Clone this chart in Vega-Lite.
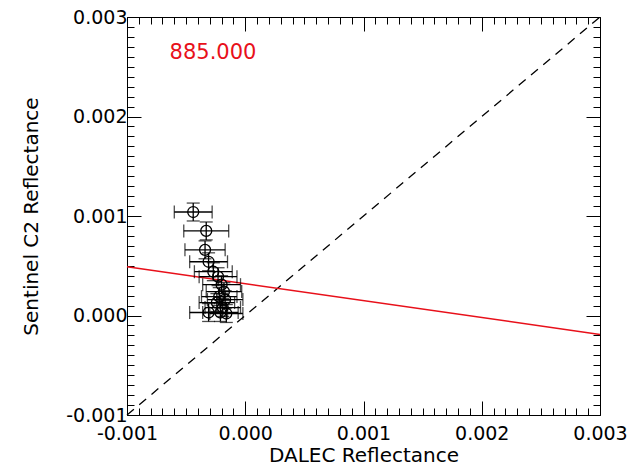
{
  "$schema": "https://vega.github.io/schema/vega-lite/v6.json",
  "width": 473,
  "height": 398,
  "autosize": "none",
  "padding": {"left": 127, "top": 17, "right": 31, "bottom": 56},
  "background": "white",
  "config": {
    "view": {"stroke": "black", "strokeWidth": 1},
    "font": "DejaVu Sans",
    "axis": {
      "grid": false,
      "domain": false,
      "tickColor": "black",
      "tickWidth": 1,
      "labelFont": "DejaVu Sans",
      "labelFontSize": 19,
      "labelColor": "black",
      "titleFont": "DejaVu Sans",
      "titleFontSize": 20,
      "titleFontWeight": "normal",
      "titleColor": "black",
      "labelOverlap": false,
      "labelFlush": false,
      "labelBound": false
    }
  },
  "datasets": {
    "pts": [
      {"x": -0.00044, "y": 0.00104, "xlo": -0.00060, "xhi": -0.00028, "ylo": 0.00095, "yhi": 0.00113},
      {"x": -0.00033, "y": 0.00085, "xlo": -0.00052, "xhi": -0.00014, "ylo": 0.00076, "yhi": 0.00094},
      {"x": -0.00034, "y": 0.00066, "xlo": -0.00051, "xhi": -0.00017, "ylo": 0.00057, "yhi": 0.00075},
      {"x": -0.00031, "y": 0.00054, "xlo": -0.00047, "xhi": -0.00015, "ylo": 0.00045, "yhi": 0.00063},
      {"x": -0.00027, "y": 0.00044, "xlo": -0.00043, "xhi": -0.00011, "ylo": 0.00035, "yhi": 0.00053},
      {"x": -0.00023, "y": 0.00039, "xlo": -0.00039, "xhi": -0.00007, "ylo": 0.00030, "yhi": 0.00048},
      {"x": -0.00020, "y": 0.00031, "xlo": -0.00036, "xhi": -0.00004, "ylo": 0.00022, "yhi": 0.00040},
      {"x": -0.00018, "y": 0.00024, "xlo": -0.00033, "xhi": -0.00003, "ylo": 0.00015, "yhi": 0.00033},
      {"x": -0.00022, "y": 0.00019, "xlo": -0.00037, "xhi": -0.00007, "ylo": 0.00010, "yhi": 0.00028},
      {"x": -0.00017, "y": 0.00016, "xlo": -0.00032, "xhi": -0.00002, "ylo": 0.00007, "yhi": 0.00025},
      {"x": -0.00024, "y": 0.00013, "xlo": -0.00039, "xhi": -0.00009, "ylo": 0.00004, "yhi": 0.00022},
      {"x": -0.00019, "y": 0.00008, "xlo": -0.00034, "xhi": -0.00004, "ylo": -0.00001, "yhi": 0.00017},
      {"x": -0.00031, "y": 0.00003, "xlo": -0.00047, "xhi": -0.00015, "ylo": -0.00006, "yhi": 0.00012},
      {"x": -0.00021, "y": 0.00003, "xlo": -0.00036, "xhi": -0.00006, "ylo": -0.00006, "yhi": 0.00012},
      {"x": -0.00016, "y": 0.00002, "xlo": -0.00030, "xhi": -0.00002, "ylo": -0.00007, "yhi": 0.00011}
    ],
    "oneone": [{"x": -0.001, "y": -0.001, "x2": 0.003, "y2": 0.003}],
    "fit": [{"x": -0.001, "y": 0.00049, "x2": 0.003, "y2": -0.00019}],
    "lab": [{"x": -0.00064, "y": 0.00264, "label": "885.000"}]
  },
  "resolve": {"axis": {"x": "independent", "y": "independent"}},
  "layer": [
    {
      "data": {"name": "oneone"},
      "mark": {"type": "rule", "color": "black", "strokeWidth": 1.3, "strokeDash": [9, 7]},
      "encoding": {
        "x": {
          "field": "x", "type": "quantitative",
          "scale": {"domain": [-0.001, 0.003], "nice": false, "zero": false},
          "axis": {
            "orient": "bottom",
            "title": "DALEC Reflectance",
            "titlePadding": -5,
            "values": [-0.001,-0.0009,-0.0008,-0.0007,-0.0006,-0.0005,-0.0004,-0.0003,-0.0002,-0.0001,0,0.0001,0.0002,0.0003,0.0004,0.0005,0.0006,0.0007,0.0008,0.0009,0.001,0.0011,0.0012,0.0013,0.0014,0.0015,0.0016,0.0017,0.0018,0.0019,0.002,0.0021,0.0022,0.0023,0.0024,0.0025,0.0026,0.0027,0.0028,0.0029,0.003],
            "labelExpr": "abs(datum.value*1000 - round(datum.value*1000)) < 0.001 ? replace(format(datum.value, '.3f'), '\u2212', '-') : ''",
            "tickSize": {"condition": {"test": "abs(datum.value*1000 - round(datum.value*1000)) < 0.001", "value": -14}, "value": -7},
            "labelPadding": 23
          }
        },
        "y": {
          "field": "y", "type": "quantitative",
          "scale": {"domain": [-0.001, 0.003], "nice": false, "zero": false},
          "axis": {
            "orient": "left",
            "title": "Sentinel C2 Reflectance",
            "titlePadding": 24,
            "values": [-0.001,-0.0009,-0.0008,-0.0007,-0.0006,-0.0005,-0.0004,-0.0003,-0.0002,-0.0001,0,0.0001,0.0002,0.0003,0.0004,0.0005,0.0006,0.0007,0.0008,0.0009,0.001,0.0011,0.0012,0.0013,0.0014,0.0015,0.0016,0.0017,0.0018,0.0019,0.002,0.0021,0.0022,0.0023,0.0024,0.0025,0.0026,0.0027,0.0028,0.0029,0.003],
            "labelExpr": "abs(datum.value*1000 - round(datum.value*1000)) < 0.001 ? replace(format(datum.value, '.3f'), '\u2212', '-') : ''",
            "tickSize": {"condition": {"test": "abs(datum.value*1000 - round(datum.value*1000)) < 0.001", "value": -14}, "value": -7},
            "labelPadding": 14
          }
        },
        "x2": {"field": "x2"},
        "y2": {"field": "y2"}
      }
    },
    {
      "data": {"name": "fit"},
      "mark": {"type": "rule", "color": "#e8101a", "strokeWidth": 1.5},
      "encoding": {
        "x": {
          "field": "x", "type": "quantitative",
          "scale": {"domain": [-0.001, 0.003], "nice": false, "zero": false},
          "axis": {
            "orient": "top",
            "title": null,
            "labels": false,
            "values": [-0.001,-0.0009,-0.0008,-0.0007,-0.0006,-0.0005,-0.0004,-0.0003,-0.0002,-0.0001,0,0.0001,0.0002,0.0003,0.0004,0.0005,0.0006,0.0007,0.0008,0.0009,0.001,0.0011,0.0012,0.0013,0.0014,0.0015,0.0016,0.0017,0.0018,0.0019,0.002,0.0021,0.0022,0.0023,0.0024,0.0025,0.0026,0.0027,0.0028,0.0029,0.003],
            "tickSize": {"condition": {"test": "abs(datum.value*1000 - round(datum.value*1000)) < 0.001", "value": -14}, "value": -7}
          }
        },
        "y": {
          "field": "y", "type": "quantitative",
          "scale": {"domain": [-0.001, 0.003], "nice": false, "zero": false},
          "axis": {
            "orient": "right",
            "title": null,
            "labels": false,
            "values": [-0.001,-0.0009,-0.0008,-0.0007,-0.0006,-0.0005,-0.0004,-0.0003,-0.0002,-0.0001,0,0.0001,0.0002,0.0003,0.0004,0.0005,0.0006,0.0007,0.0008,0.0009,0.001,0.0011,0.0012,0.0013,0.0014,0.0015,0.0016,0.0017,0.0018,0.0019,0.002,0.0021,0.0022,0.0023,0.0024,0.0025,0.0026,0.0027,0.0028,0.0029,0.003],
            "tickSize": {"condition": {"test": "abs(datum.value*1000 - round(datum.value*1000)) < 0.001", "value": -14}, "value": -7}
          }
        },
        "x2": {"field": "x2"},
        "y2": {"field": "y2"}
      }
    },
    {
      "data": {"name": "pts"},
      "mark": {"type": "errorbar", "ticks": {"size": 13, "color": "black", "thickness": 1.3}, "rule": {"color": "black", "strokeWidth": 1.3}},
      "encoding": {
        "x": {"field": "xlo", "type": "quantitative", "scale": {"domain": [-0.001, 0.003], "nice": false, "zero": false}, "axis": null},
        "x2": {"field": "xhi"},
        "y": {"field": "y", "type": "quantitative", "scale": {"domain": [-0.001, 0.003], "nice": false, "zero": false}, "axis": null}
      }
    },
    {
      "data": {"name": "pts"},
      "mark": {"type": "errorbar", "ticks": {"size": 13, "color": "black", "thickness": 1.3}, "rule": {"color": "black", "strokeWidth": 1.3}},
      "encoding": {
        "y": {"field": "ylo", "type": "quantitative", "scale": {"domain": [-0.001, 0.003], "nice": false, "zero": false}, "axis": null},
        "y2": {"field": "yhi"},
        "x": {"field": "x", "type": "quantitative", "scale": {"domain": [-0.001, 0.003], "nice": false, "zero": false}, "axis": null}
      }
    },
    {
      "data": {"name": "pts"},
      "mark": {"type": "point", "shape": "circle", "filled": false, "color": "black", "strokeWidth": 1.3, "size": 120, "opacity": 1},
      "encoding": {
        "x": {"field": "x", "type": "quantitative", "scale": {"domain": [-0.001, 0.003], "nice": false, "zero": false}, "axis": null},
        "y": {"field": "y", "type": "quantitative", "scale": {"domain": [-0.001, 0.003], "nice": false, "zero": false}, "axis": null}
      }
    },
    {
      "data": {"name": "lab"},
      "mark": {"type": "text", "color": "#e8101a", "fontSize": 21, "align": "left", "baseline": "middle", "font": "DejaVu Sans"},
      "encoding": {
        "x": {"field": "x", "type": "quantitative", "scale": {"domain": [-0.001, 0.003], "nice": false, "zero": false}, "axis": null},
        "y": {"field": "y", "type": "quantitative", "scale": {"domain": [-0.001, 0.003], "nice": false, "zero": false}, "axis": null},
        "text": {"field": "label"}
      }
    }
  ]
}
